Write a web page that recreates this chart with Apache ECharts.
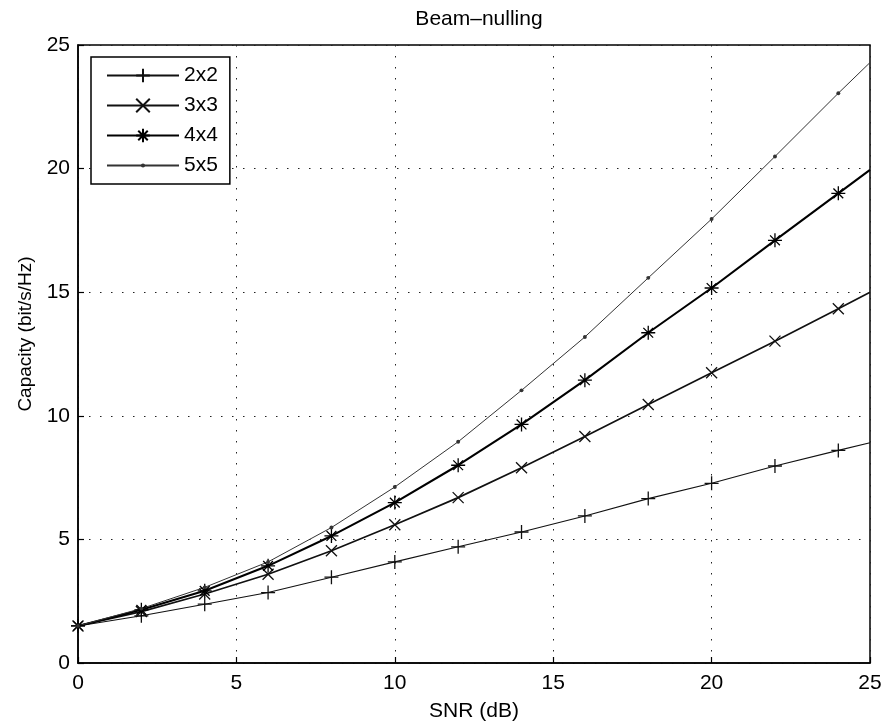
<!DOCTYPE html>
<html>
<head>
<meta charset="utf-8">
<script src="https://cdn.jsdelivr.net/npm/echarts@6/dist/echarts.min.js"></script>
<style>
  html, body { margin: 0; padding: 0; background: #fff; }
  #chart { width: 886px; height: 727px; }
</style>
</head>
<body>
<div id="chart"></div>
<script>
var snr = [0, 2, 4, 6, 8, 10, 12, 14, 16, 18, 20, 22, 24, 25];
var cap2 = [1.5, 1.91, 2.38, 2.85, 3.47, 4.09, 4.70, 5.30, 5.95, 6.65, 7.27, 7.97, 8.60, 8.91];
var cap3 = [1.5, 2.08, 2.79, 3.59, 4.54, 5.59, 6.69, 7.90, 9.16, 10.46, 11.74, 13.02, 14.33, 15.0];
var cap4 = [1.5, 2.15, 2.92, 3.93, 5.14, 6.49, 8.0, 9.65, 11.44, 13.36, 15.17, 17.1, 19.0, 19.95];
var cap5 = [1.5, 2.2, 3.06, 4.09, 5.48, 7.12, 8.95, 11.03, 13.19, 15.58, 17.96, 20.49, 23.05, 24.29];
var names = ['2x2', '3x3', '4x4', '5x5'];
var xTicks = [0, 5, 10, 15, 20, 25];
var yTicks = [0, 5, 10, 15, 20, 25];

var FONT = 'Liberation Sans, Arial, Helvetica, sans-serif';

var PLUS = 'path://M5,0L5,10M0,5L10,5';
var CROSS = 'path://M0,0L10,10M0,10L10,0';
var STAR = 'path://M5,0L5,10M0,5L10,5M1.5,1.5L8.5,8.5M1.5,8.5L8.5,1.5';
// small dot inside an empty 10x10 box, so the legend keeps it small too
var DOT = 'path://M0,0M10,10M3.5,5A1.5,1.5,0,1,1,6.5,5A1.5,1.5,0,1,1,3.5,5Z';

function pts(vals) {
    // markers at the even SNR values, last point (25 dB) only carries the line
    return snr.map(function(x, i) {
        if (i === snr.length - 1) {
            return { value: [x, vals[i]], symbol: 'none' };
        }
        return [x, vals[i]];
    });
}

function mkSeries(name, vals, symbol, size, width, color, filled) {
    return {
        name: name,
        type: 'line',
        data: pts(vals),
        symbol: symbol,
        symbolSize: size,
        showAllSymbol: true,
        animation: false,
        lineStyle: { color: color, width: width },
        itemStyle: {
            color: filled ? color : 'rgba(0,0,0,0)',
            borderColor: color,
            borderWidth: filled ? 0 : 1.3
        },
        emphasis: { disabled: true }
    };
}

var chart = echarts.init(document.getElementById('chart'), null, { renderer: 'canvas' });

var gridDots = { show: true, lineStyle: { color: '#222', width: 1, type: [1.5, 9.5] } };

chart.setOption({
    backgroundColor: '#fff',
    animation: false,
    textStyle: { fontFamily: FONT },
    title: {
        text: 'Beam–nulling',
        left: 474,
        textAlign: 'center',
        top: 4,
        textStyle: { fontFamily: FONT, fontSize: 21, fontWeight: 'normal', color: '#000' }
    },
    legend: {
        data: names,
        orient: 'vertical',
        left: 91,
        top: 57,
        padding: [8, 12, 8, 15],
        itemWidth: 72,
        itemHeight: 17,
        itemGap: 9,
        borderColor: '#000',
        borderWidth: 1.5,
        backgroundColor: '#fff',
        selectedMode: false,
        textStyle: { fontFamily: FONT, fontSize: 21, color: '#000' }
    },
    grid: {
        left: 78,
        right: 16,
        top: 45,
        bottom: 63,
        show: true,
        borderColor: '#000',
        borderWidth: 1.5,
        backgroundColor: 'rgba(0,0,0,0)'
    },
    xAxis: {
        type: 'value',
        min: 0,
        max: 25,
        interval: 5,
        name: 'SNR (dB)',
        nameLocation: 'middle',
        nameGap: 38,
        nameTextStyle: { fontFamily: FONT, fontSize: 21, color: '#000' },
        axisLine: { show: true, onZero: false, lineStyle: { color: '#000', width: 1.5 } },
        axisTick: { show: true, inside: true, length: 6, lineStyle: { color: '#000', width: 1.2 } },
        axisLabel: {
            margin: 10, fontFamily: FONT, fontSize: 21, color: '#000',
            formatter: function(v) { return xTicks.indexOf(v) >= 0 ? String(v) : ''; }
        },
        splitLine: gridDots
    },
    yAxis: {
        type: 'value',
        min: 0,
        max: 25,
        interval: 5,
        name: 'Capacity (bit/s/Hz)',
        nameLocation: 'middle',
        nameGap: 42,
        nameTextStyle: { fontFamily: FONT, fontSize: 19, color: '#000', padding: [0, 0, 0, 40] },
        axisLine: { show: true, onZero: false, lineStyle: { color: '#000', width: 1.5 } },
        axisTick: { show: true, inside: true, length: 6, lineStyle: { color: '#000', width: 1.2 } },
        axisLabel: {
            margin: 8, fontFamily: FONT, fontSize: 21, color: '#000',
            formatter: function(v) { return yTicks.indexOf(v) >= 0 ? String(v) : ''; }
        },
        splitLine: gridDots
    },
    series: [
        mkSeries(names[0], cap2, PLUS, 14, 1.1, '#111', false),
        mkSeries(names[1], cap3, CROSS, 11, 1.7, '#111', false),
        mkSeries(names[2], cap4, STAR, 14, 2.1, '#000', false),
        mkSeries(names[3], cap5, DOT, 13, 1, '#333', true)
    ]
});
</script>
</body>
</html>
